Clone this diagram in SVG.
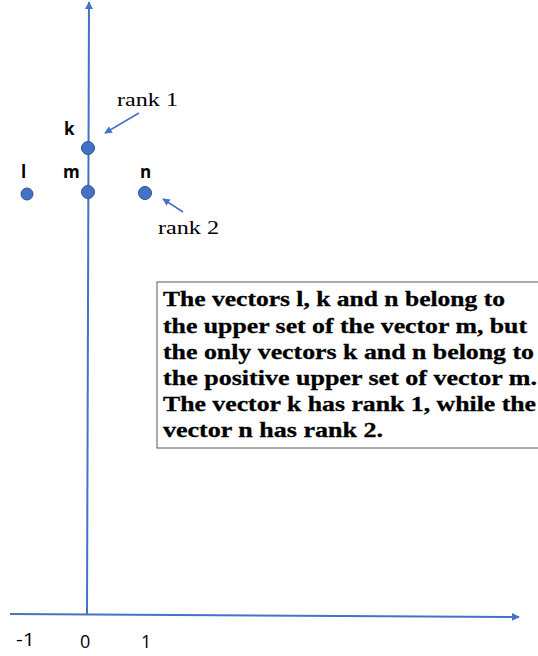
<svg xmlns="http://www.w3.org/2000/svg" width="538" height="656" viewBox="0 0 538 656">
<defs>
<marker id="ah" viewBox="0 0 10 10" refX="9" refY="5" markerWidth="4" markerHeight="4" orient="auto" markerUnits="strokeWidth">
<path d="M0,0 L10,5 L0,10 z" fill="#4472C4"/>
</marker>
<marker id="ah2" viewBox="0 0 10 10" refX="9" refY="5" markerWidth="5" markerHeight="5" orient="auto" markerUnits="strokeWidth">
<path d="M0,0 L10,5 L0,10 z" fill="#4472C4"/>
</marker>
</defs>
<style>
.axis{stroke:#4472C4;stroke-width:2;fill:none}
.ptr{stroke:#4472C4;stroke-width:1.5;fill:none}
.dot{fill:#4472C4;stroke:#2F528F;stroke-width:1}
.lbl{font-family:"Open Sans","Liberation Sans",sans-serif;font-weight:bold;font-size:17px;fill:#000}
.tick{font-family:"Open Sans","Liberation Sans",sans-serif;font-size:18px;fill:#000}
.rank{font-family:"Liberation Serif",serif;font-size:19px;fill:#000}
.box{fill:#fff;stroke:#595959;stroke-width:1}
.note{font-family:"Liberation Serif",serif;font-weight:bold;font-size:21px;fill:#000;stroke:#000;stroke-width:0.3}
</style>
<rect width="538" height="656" fill="#fff"/>
<g id="connectors">
<line class="axis" x1="87" y1="614" x2="89" y2="2" marker-end="url(#ah)"/>
<line class="axis" x1="10" y1="614" x2="519" y2="617" marker-end="url(#ah)"/>
<line class="ptr" x1="139" y1="113" x2="105" y2="133" marker-end="url(#ah2)"/>
<line class="ptr" x1="183" y1="212" x2="163" y2="199" marker-end="url(#ah2)"/>
</g>
<g id="node-k"><circle class="dot" cx="88" cy="148" r="6.5"/><text class="lbl" x="64" y="135">k</text></g>
<g id="node-l"><circle class="dot" cx="27" cy="194" r="6"/><text class="lbl" x="21" y="178">l</text></g>
<g id="node-m"><circle class="dot" cx="88" cy="192" r="6.5"/><text class="lbl" x="63" y="178">m</text></g>
<g id="node-n"><circle class="dot" cx="145" cy="193" r="6.5"/><text class="lbl" x="140" y="178">n</text></g>
<g id="label-rank1"><text class="rank" x="117" y="106" textLength="61" lengthAdjust="spacingAndGlyphs">rank 1</text></g>
<g id="label-rank2"><text class="rank" x="158" y="234" textLength="61" lengthAdjust="spacingAndGlyphs">rank 2</text></g>
<g id="note">
<rect class="box" x="157" y="282" width="390" height="166"/>
<text class="note" x="163" y="306" textLength="342" lengthAdjust="spacingAndGlyphs">The vectors l, k and n belong to</text>
<text class="note" x="163" y="333" textLength="364" lengthAdjust="spacingAndGlyphs">the upper set of the vector m, but</text>
<text class="note" x="163" y="359" textLength="371" lengthAdjust="spacingAndGlyphs">the only vectors k and n belong to</text>
<text class="note" x="163" y="385" textLength="374" lengthAdjust="spacingAndGlyphs">the positive upper set of vector m.</text>
<text class="note" x="163" y="411" textLength="373" lengthAdjust="spacingAndGlyphs">The vector k has rank 1, while the</text>
<text class="note" x="163" y="437" textLength="220" lengthAdjust="spacingAndGlyphs">vector n has rank 2.</text>
</g>
<g id="ticks">
<text class="tick" x="16" y="646" textLength="19" lengthAdjust="spacingAndGlyphs">-1</text>
<text class="tick" x="80" y="648">0</text>
<text class="tick" x="141" y="648">1</text>
</g>
</svg>
